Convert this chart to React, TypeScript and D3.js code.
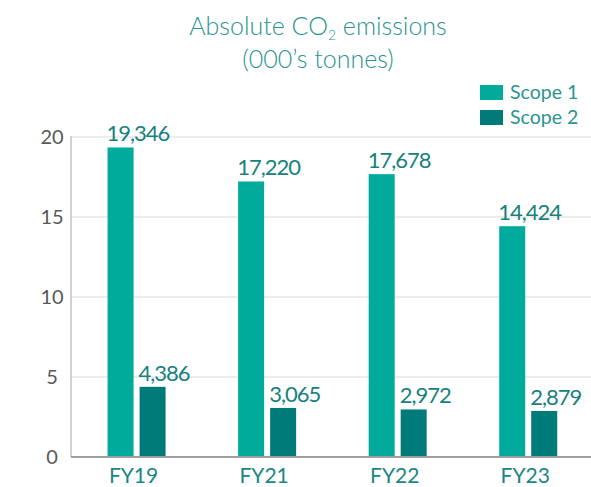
import * as React from "react";
import { useEffect, useRef } from "react";
import * as d3 from "d3";

const years = ["FY19", "FY21", "FY22", "FY23"];
const seriesNames = ["Scope 1", "Scope 2"];
const scope1 = [19346, 17220, 17678, 14424];
const scope2 = [4386, 3065, 2972, 2879];
const yTicks = [0, 5, 10, 15, 20];

const colors = ["#00ab9c", "#007b79"];
const font = "Lato, 'Open Sans', sans-serif";

const App: React.FC = () => {
  const ref = useRef<SVGSVGElement>(null);
  const width = 591;
  const height = 487;

  useEffect(() => {
    const svg = d3.select(ref.current);
    svg.selectAll("*").remove();

    const left = 71;
    const bottom = 457;

    const y = d3.scaleLinear().domain([0, 20]).range([bottom, 137]);
    const x0 = d3.scaleBand().domain(years).range([71.3, 593.5]).padding(0);
    const x1 = d3
      .scaleBand()
      .domain(seriesNames)
      .range([0, 58])
      .paddingInner(0.1875);

    // gridlines
    svg
      .append("g")
      .selectAll("line")
      .data(yTicks.filter((t) => t > 0))
      .enter()
      .append("line")
      .attr("x1", left)
      .attr("x2", width)
      .attr("y1", (d) => y(d))
      .attr("y2", (d) => y(d))
      .attr("stroke", "#d9d9d9")
      .attr("stroke-width", 1.2);

    // y labels
    svg
      .append("g")
      .selectAll("text")
      .data(yTicks)
      .enter()
      .append("text")
      .attr("x", 52)
      .attr("y", (d) => y(d))
      .attr("dy", "0.36em")
      .attr("text-anchor", "middle")
      .attr("font-family", font)
      .attr("font-size", 20)
      .attr("fill", "#595959")
      .text((d) => d);

    const rows = years.map((yr, i) => ({ year: yr, values: [scope1[i], scope2[i]] }));

    const groups = svg
      .append("g")
      .selectAll("g")
      .data(rows)
      .enter()
      .append("g")
      .attr(
        "transform",
        (d) => `translate(${x0(d.year)! + x0.bandwidth() / 2 - 29}, 0)`
      );

    groups
      .selectAll("rect")
      .data((d) => d.values.map((v, i) => ({ key: seriesNames[i], v })))
      .enter()
      .append("rect")
      .attr("x", (d) => x1(d.key)!)
      .attr("y", (d) => y(d.v / 1000))
      .attr("width", x1.bandwidth())
      .attr("height", (d) => bottom - y(d.v / 1000))
      .attr("fill", (d, i) => colors[i]);

    groups
      .selectAll("text")
      .data((d) => d.values.map((v, i) => ({ key: seriesNames[i], v })))
      .enter()
      .append("text")
      .attr("x", (d) => x1(d.key)! - 1)
      .attr("y", (d) => y(d.v / 1000) - 6)
      .attr("font-family", font)
      .attr("font-size", 22)
      .attr("letter-spacing", -1)
      .attr("fill", "#16817d")
      .text((d) => d3.format(",")(d.v));

    // axes lines
    svg
      .append("line")
      .attr("x1", left)
      .attr("x2", left)
      .attr("y1", 136)
      .attr("y2", bottom)
      .attr("stroke", "#a6a6a6")
      .attr("stroke-width", 1);
    svg
      .append("line")
      .attr("x1", left)
      .attr("x2", width)
      .attr("y1", bottom)
      .attr("y2", bottom)
      .attr("stroke", "#a0a0a0")
      .attr("stroke-width", 2);

    // x labels
    svg
      .append("g")
      .selectAll("text")
      .data(years)
      .enter()
      .append("text")
      .attr("x", (d) => x0(d)! + x0.bandwidth() / 2 - 3)
      .attr("y", 483)
      .attr("text-anchor", "middle")
      .attr("font-family", font)
      .attr("font-size", 21)
      .attr("fill", "#1a8783")
      .text((d) => d);

    // title
    const t1 = svg
      .append("text")
      .attr("x", 318)
      .attr("y", 35)
      .attr("text-anchor", "middle")
      .attr("font-family", font)
      .attr("font-size", 25)
      .attr("font-weight", 300)
      .attr("fill", "#2b948f");
    t1.append("tspan").text("Absolute CO");
    t1.append("tspan").attr("font-size", 14).attr("dy", 5).text("2");
    t1.append("tspan").attr("dy", -5).text(" emissions");
    svg
      .append("text")
      .attr("x", 318)
      .attr("y", 68)
      .attr("text-anchor", "middle")
      .attr("font-family", font)
      .attr("font-size", 25)
      .attr("font-weight", 300)
      .attr("fill", "#2b948f")
      .text("(000\u2019s tonnes)");

    // legend
    const legend = svg
      .append("g")
      .selectAll("g")
      .data(seriesNames)
      .enter()
      .append("g")
      .attr("transform", (d, i) => `translate(480, ${85 + i * 25})`);
    legend
      .append("rect")
      .attr("width", 23)
      .attr("height", 15)
      .attr("fill", (d, i) => colors[i]);
    legend
      .append("text")
      .attr("x", 30)
      .attr("y", 14)
      .attr("font-family", font)
      .attr("font-size", 19.5)
      .attr("fill", "#2b948f")
      .text((d) => d);
  });

  return (
    <svg
      ref={ref}
      width={width}
      height={height}
      style={{ position: "absolute", left: 0, top: 0, background: "#fff" }}
    ></svg>
  );
};

export default App;
